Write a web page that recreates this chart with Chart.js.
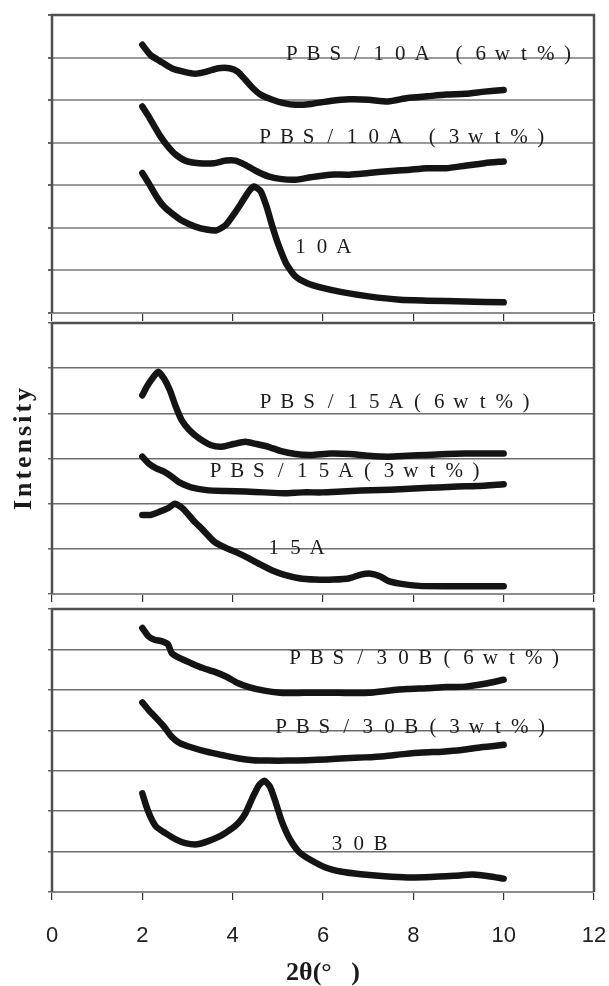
<!DOCTYPE html>
<html>
<head>
<meta charset="utf-8">
<script src="https://cdn.jsdelivr.net/npm/chart.js@4.4.1/dist/chart.umd.min.js"></script>
<style>
  html, body { margin: 0; padding: 0; background: #fff; }
  #wrap { position: relative; width: 609px; height: 986px; overflow: hidden; }
  #wrap canvas { position: absolute; left: 0; }
</style>
</head>
<body>
<div id="wrap">
  <canvas id="c10A" width="609" height="322" style="top:0"></canvas>
  <canvas id="c15A" width="609" height="286" style="top:318px"></canvas>
  <canvas id="c30B" width="609" height="386" style="top:600px"></canvas>
</div>
<script>
// XRD scans, 2θ from 2 to 10 deg, curves offset vertically inside each panel

// --- 10A ---
const t10A6 = [2.00,2.18,2.40,2.65,2.91,3.17,3.42,3.68,3.93,4.11,4.28,4.45,4.62,4.88,5.13,5.39,5.73,6.16,6.59,7.01,7.44,7.87,8.30,8.73,9.15,9.58,10.0];
const i10A6 = [6.30,6.06,5.91,5.75,5.67,5.62,5.67,5.75,5.75,5.67,5.48,5.28,5.13,5.01,4.93,4.89,4.91,4.98,5.02,5.01,4.97,5.05,5.09,5.13,5.15,5.20,5.24];

const t10A3 = [2.00,2.14,2.27,2.40,2.57,2.74,2.95,3.25,3.59,3.85,4.06,4.28,4.53,4.79,5.05,5.39,5.73,6.16,6.59,7.01,7.44,7.87,8.30,8.73,9.15,9.58,10.0];
const i10A3 = [4.85,4.62,4.38,4.15,3.91,3.72,3.58,3.52,3.52,3.58,3.58,3.48,3.33,3.21,3.15,3.13,3.19,3.25,3.25,3.29,3.33,3.36,3.40,3.40,3.46,3.52,3.56];

const t10A = [2.00,2.14,2.31,2.48,2.69,2.91,3.17,3.42,3.64,3.85,4.02,4.19,4.36,4.47,4.62,4.75,4.88,5.00,5.18,5.39,5.65,5.99,6.42,7.01,7.70,8.30,9.15,10.0];
const i10A = [3.29,3.05,2.74,2.50,2.31,2.15,2.03,1.96,1.94,2.07,2.31,2.58,2.86,2.97,2.86,2.50,2.03,1.64,1.17,0.86,0.70,0.59,0.49,0.39,0.31,0.29,0.27,0.25];

// --- 15A ---
const t15A6 = [2.00,2.10,2.22,2.35,2.48,2.61,2.74,2.87,3.04,3.25,3.51,3.76,4.02,4.28,4.53,4.79,5.05,5.39,5.73,6.16,6.59,7.01,7.44,7.87,8.30,8.73,9.15,9.58,10.0];
const i15A6 = [4.40,4.59,4.77,4.92,4.77,4.51,4.15,3.85,3.63,3.45,3.30,3.26,3.32,3.37,3.32,3.26,3.17,3.10,3.08,3.11,3.10,3.06,3.04,3.06,3.08,3.10,3.11,3.11,3.11];

const t15A3 = [2.00,2.14,2.31,2.48,2.65,2.82,3.08,3.42,3.85,4.28,4.70,5.13,5.56,5.99,6.42,6.84,7.27,7.70,8.13,8.55,8.98,9.41,10.0];
const i15A3 = [3.04,2.89,2.78,2.71,2.60,2.47,2.36,2.30,2.28,2.27,2.25,2.23,2.25,2.25,2.27,2.29,2.30,2.32,2.34,2.36,2.38,2.39,2.43];

const t15A = [2.00,2.18,2.40,2.57,2.72,2.91,3.12,3.34,3.59,3.85,4.11,4.36,4.62,4.88,5.13,5.47,5.82,6.24,6.59,6.84,7.06,7.27,7.44,7.70,8.13,8.73,9.32,10.0];
const i15A = [1.75,1.75,1.83,1.90,2.00,1.88,1.64,1.42,1.16,1.02,0.91,0.79,0.65,0.52,0.43,0.35,0.32,0.32,0.35,0.43,0.45,0.39,0.29,0.23,0.18,0.17,0.17,0.17];

// --- 30B ---
const t30B6 = [2.00,2.14,2.27,2.44,2.57,2.65,2.82,3.08,3.34,3.59,3.85,4.11,4.36,4.70,5.05,5.39,5.73,6.16,6.59,7.01,7.44,7.87,8.30,8.73,9.15,9.58,10.0];
const i30B6 = [6.53,6.32,6.24,6.20,6.12,5.91,5.79,5.66,5.54,5.45,5.33,5.17,5.07,4.98,4.93,4.92,4.93,4.93,4.92,4.93,4.98,5.02,5.04,5.07,5.08,5.15,5.25];

const t30B3 = [2.00,2.14,2.31,2.48,2.65,2.82,3.08,3.42,3.76,4.11,4.45,4.79,5.22,5.65,6.07,6.50,6.93,7.36,7.78,8.21,8.64,9.07,9.50,10.0];
const i30B3 = [4.69,4.50,4.30,4.09,3.84,3.69,3.58,3.47,3.39,3.31,3.26,3.25,3.25,3.26,3.28,3.31,3.33,3.36,3.41,3.45,3.47,3.51,3.58,3.64];

const t30B = [2.00,2.08,2.18,2.31,2.52,2.74,2.95,3.21,3.46,3.72,3.93,4.11,4.28,4.45,4.58,4.70,4.83,4.96,5.09,5.26,5.47,5.73,6.07,6.42,6.84,7.36,7.87,8.38,8.90,9.32,9.67,10.0];
const i30B = [2.44,2.15,1.86,1.61,1.45,1.30,1.21,1.18,1.26,1.38,1.53,1.69,1.94,2.36,2.64,2.75,2.60,2.19,1.74,1.32,0.99,0.79,0.60,0.50,0.44,0.39,0.36,0.37,0.40,0.43,0.39,0.33];

// curve labels (x = centre of first character, y = baseline), in axis units
const labels10A = [
  { text: 'PBS/10A (6wt%)', x: 5.31, y: 5.94 },
  { text: 'PBS/10A (3wt%)', x: 4.72, y: 3.99 },
  { text: '10A', x: 5.50, y: 1.40 }
];
const labels15A = [
  { text: 'PBS/15A(6wt%)', x: 4.73, y: 4.11 },
  { text: 'PBS/15A(3wt%)', x: 3.62, y: 2.58 },
  { text: '15A', x: 4.91, y: 0.89 }
];
const labels30B = [
  { text: 'PBS/30B(6wt%)', x: 5.38, y: 5.64 },
  { text: 'PBS/30B(3wt%)', x: 5.07, y: 3.93 },
  { text: '30B', x: 6.31, y: 1.03 }
];

const xTicks = [0, 2, 4, 6, 8, 10, 12];

// labels are set one glyph per fixed-width cell
const cellLabels = {
  id: 'cellLabels',
  afterDatasetsDraw(chart, args, opts) {
    const { ctx, scales: { x, y } } = chart;
    ctx.save();
    ctx.font = '21px "Liberation Serif", serif';
    ctx.fillStyle = '#1c1c1c';
    ctx.textAlign = 'center';
    ctx.textBaseline = 'alphabetic';
    for (const l of opts.items || []) {
      let px = x.getPixelForValue(l.x);
      const py = y.getPixelForValue(l.y);
      for (const ch of l.text) {
        if (ch === ' ') { px += opts.pitch * 0.7; continue; }
        ctx.fillText(ch, px, py);
        px += opts.pitch;
      }
    }
    ctx.restore();
  }
};

// box around the plot area (bottom edge is the x axis line)
const frame = {
  id: 'frame',
  afterDatasetsDraw(chart) {
    const { ctx, chartArea: a } = chart;
    ctx.save();
    ctx.strokeStyle = '#505050';
    ctx.lineWidth = 2.5;
    ctx.beginPath();
    ctx.moveTo(a.left, a.bottom);
    ctx.lineTo(a.left, a.top);
    ctx.lineTo(a.right, a.top);
    ctx.lineTo(a.right, a.bottom);
    ctx.stroke();
    ctx.restore();
  }
};

// shared vertical axis title
const sideTitle = {
  id: 'sideTitle',
  afterDraw(chart, args, opts) {
    if (!opts.text) return;
    const { ctx } = chart;
    ctx.save();
    ctx.translate(opts.x, opts.y);
    ctx.rotate(-Math.PI / 2);
    ctx.font = 'bold 26px "Liberation Serif", serif';
    ctx.letterSpacing = '3px';
    ctx.fillStyle = '#1a1a1a';
    ctx.textAlign = 'center';
    ctx.textBaseline = 'middle';
    ctx.fillText(opts.text, 0, 0);
    ctx.restore();
  }
};

function series(t, v) {
  return {
    data: t.map((x, k) => ({ x: x, y: v[k] })),
    borderColor: '#141414',
    borderWidth: 6.5,
    borderCapStyle: 'round',
    borderJoinStyle: 'round',
    pointRadius: 0,
    tension: 0.2,
    fill: false
  };
}

function panel(id, sets, labels, yMax, opt) {
  return new Chart(document.getElementById(id), {
    type: 'line',
    data: { datasets: sets.map(s => series(s[0], s[1])) },
    plugins: [frame, cellLabels, sideTitle],
    options: {
      responsive: false,
      animation: false,
      events: [],
      devicePixelRatio: 1,
      layout: { padding: { top: opt.padTop, right: 15, left: 0, bottom: 0 } },
      plugins: {
        legend: { display: false },
        tooltip: { enabled: false },
        cellLabels: { items: labels, pitch: 21.7 },
        sideTitle: opt.side || {}
      },
      scales: {
        x: {
          type: 'linear',
          min: 0, max: 12,
          afterBuildTicks: s => { s.ticks = xTicks.map(v => ({ value: v })); },
          ticks: {
            display: !!opt.labels,
            padding: 23,
            color: '#222',
            font: { family: '"Liberation Sans", Arial, sans-serif', size: 22 }
          },
          grid: { drawOnChartArea: false, drawTicks: true, tickLength: 8, color: '#333', lineWidth: 1.2 },
          border: { display: true, color: '#8d8d8d', width: 2 },
          title: {
            display: !!opt.labels,
            text: '2θ(°   )',
            color: '#1a1a1a',
            padding: 0,
            font: { family: '"Liberation Serif", serif', size: 26, weight: 'bold', lineHeight: 1 }
          },
          afterFit: s => {
            s.height = opt.xHeight;
            // keep the "0" and "12" labels from shrinking the plot area
            s.paddingLeft = 0;
            s.paddingRight = 0;
          }
        },
        y: {
          min: 0, max: yMax,
          ticks: { display: false, stepSize: 1 },
          grid: { color: opt.grid, lineWidth: opt.gridWidth, drawTicks: true, tickLength: 4, tickColor: '#666' },
          border: { display: false },
          afterFit: s => { s.width = 52; }
        }
      }
    }
  });
}

panel('c10A', [[t10A6, i10A6], [t10A3, i10A3], [t10A, i10A]], labels10A, 7,
  { padTop: 15, xHeight: 9, grid: '#9a9a9a', gridWidth: 2 });

panel('c15A', [[t15A6, i15A6], [t15A3, i15A3], [t15A, i15A]], labels15A, 6,
  { padTop: 5, xHeight: 10, grid: '#6e6e6e', gridWidth: 1.5,
    side: { text: 'Intensity', x: 24, y: 129.5 } });

panel('c30B', [[t30B6, i30B6], [t30B3, i30B3], [t30B, i30B]], labels30B, 7,
  { padTop: 9, xHeight: 94, grid: '#6e6e6e', gridWidth: 1.5, labels: true });
</script>
</body>
</html>
